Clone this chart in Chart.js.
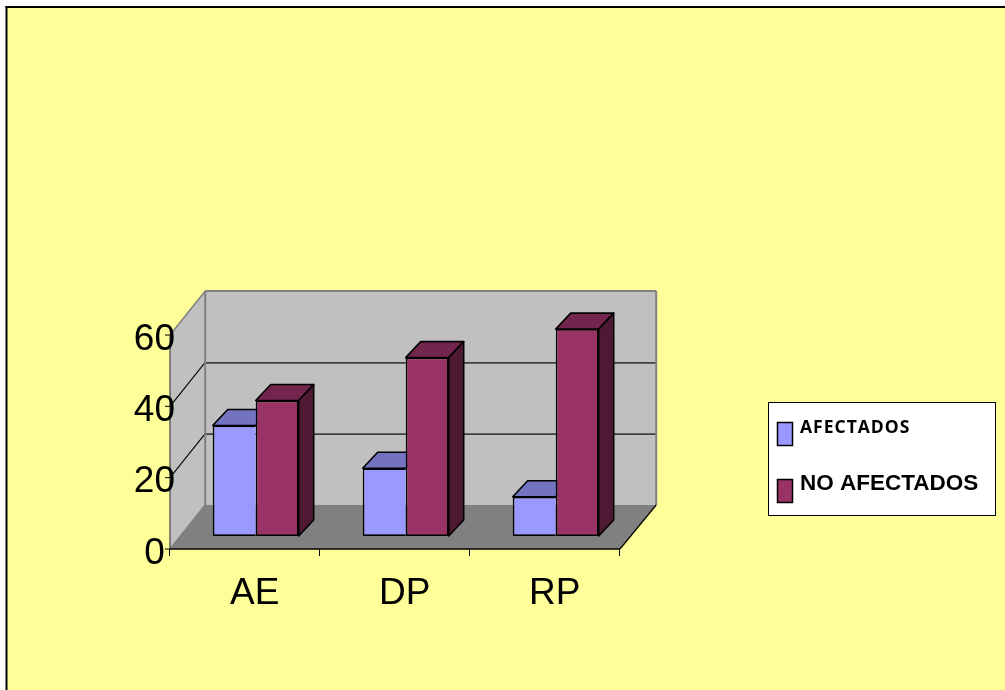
<!DOCTYPE html>
<html>
<head>
<meta charset="utf-8">
<title>AFECTADOS / NO AFECTADOS</title>
<script src="https://cdn.jsdelivr.net/npm/chart.js@4"></script>
<style>
  html, body { margin: 0; padding: 0; background: #fff; overflow: hidden; }
  #wrap { position: relative; width: 1005px; height: 690px; }
</style>
</head>
<body>
<div id="wrap"><canvas id="chart" width="1005" height="690"></canvas></div>
<script>
const categories = ["AE", "DP", "RP"];
const afectados = [31, 19, 11];
const noAfectados = [38, 50, 58];
const yTicks = [0, 20, 40, 60];

const blue = "#9999FF";
const blueTop = "#7373BF";
const red = "#993366";
const redTop = "#73264D";
const redSide = "#4D1933";

// offsets of the back wall and the front edge of the floor, from the plane the bars stand on
const back = { x: 24.5, y: -31 };
const front = { x: -10.7, y: 13 };
// depth of a bar
const barDepth = { x: 15, y: -16 };

function poly(ctx, pts, fill, stroke, width) {
  ctx.beginPath();
  pts.forEach((p, i) => (i ? ctx.lineTo(p[0], p[1]) : ctx.moveTo(p[0], p[1])));
  ctx.closePath();
  if (fill) {
    ctx.fillStyle = fill;
    ctx.fill();
  }
  if (stroke) {
    ctx.strokeStyle = stroke;
    ctx.lineWidth = width || 1;
    ctx.stroke();
  }
}

function line(ctx, x1, y1, x2, y2, color, width) {
  ctx.beginPath();
  ctx.moveTo(x1, y1);
  ctx.lineTo(x2, y2);
  ctx.strokeStyle = color;
  ctx.lineWidth = width;
  ctx.stroke();
}

// page frame, walls and floor go under everything else
const walls = {
  id: "walls",
  beforeDraw(chart) {
    const { ctx, chartArea: a, scales: { y } } = chart;
    const y0 = y.getPixelForValue(0);
    const yMax = y.getPixelForValue(60);
    ctx.save();

    ctx.fillStyle = "#FFFF99";
    ctx.fillRect(6, 7, chart.width, chart.height);
    line(ctx, 6.5, 6, 6.5, chart.height, "#000", 2);
    line(ctx, 5.5, 7, chart.width, 7, "#000", 2);

    const bl = a.left + back.x, br = a.right + back.x + 1;
    const fl = a.left + front.x, fr = a.right + front.x;
    const bTop = yMax + back.y, bBot = y0 + back.y;
    const fTop = yMax + front.y, fBot = y0 + front.y;

    // back wall, left wall, floor
    poly(ctx, [[bl, bTop], [br, bTop], [br, bBot], [bl, bBot]], "#C0C0C0");
    poly(ctx, [[fl, fTop], [bl, bTop], [bl, bBot], [fl, fBot]], "#C0C0C0");
    poly(ctx, [[fl, fBot], [bl, bBot], [br, bBot], [fr, fBot]], "#808080");

    // gridlines run across the back wall and down the left wall
    yTicks.slice(1, -1).forEach(v => {
      const p = y.getPixelForValue(v);
      line(ctx, bl, p + back.y + 0.5, br, p + back.y + 0.5, "#404040", 1.6);
      line(ctx, fl, p + front.y, bl, p + back.y, "#000", 1.1);
    });

    line(ctx, bl, bTop, br, bTop, "#808080", 2);
    line(ctx, br, bTop, br, bBot, "#808080", 2);
    line(ctx, bl, bTop, bl, bBot, "#808080", 2);
    line(ctx, fl, fTop, bl, bTop, "#808080", 1.5);
    line(ctx, fl, fBot, bl, bBot, "#808080", 1.5);
    line(ctx, fl, fTop, fl, fBot, "#606060", 1.5);
    line(ctx, fl, fBot, fr, fBot, "#000", 1.4);
    line(ctx, fr, fBot, br, bBot, "#000", 1.2);

    // axis tick marks along the front edges
    yTicks.forEach(v => {
      const p = y.getPixelForValue(v) + front.y;
      line(ctx, fl - 5, p, fl, p, "#000", 1);
    });
    const step = (fr - fl) / categories.length;
    for (let i = 0; i <= categories.length; i++) {
      const x = Math.round(fl + step * i) - 0.5;
      line(ctx, x, fBot, x, fBot + 7, "#000", 1);
    }
    ctx.restore();
  }
};

// top and side faces of the bars; the library paints the front faces over them
const barFaces = {
  id: "barFaces",
  beforeDatasetsDraw(chart) {
    const { ctx } = chart;
    const dx = barDepth.x, dy = barDepth.y;
    ctx.save();
    ctx.lineJoin = "round";
    [0, 1].forEach(i => {
      const top = i === 0 ? blueTop : redTop;
      chart.getDatasetMeta(i).data.forEach(bar => {
        const l = bar.x - bar.width / 2, r = bar.x + bar.width / 2;
        const t = bar.y, b = bar.base;
        poly(ctx, [[l, t], [l + dx, t + dy], [r + dx, t + dy], [r, t]], top, "#000", 1.6);
        if (i === 1) {
          poly(ctx, [[r, t], [r + dx, t + dy], [r + dx, b + dy], [r, b]], redSide, "#000", 1.6);
        }
      });
    });
    ctx.restore();
  }
};

// legend box: each entry has its own typeface
const legendBox = {
  id: "legendBox",
  afterDraw(chart) {
    const { ctx } = chart;
    ctx.save();
    ctx.fillStyle = "#fff";
    ctx.fillRect(768.5, 402.5, 227, 113);
    ctx.strokeStyle = "#000";
    ctx.lineWidth = 1;
    ctx.strokeRect(768.5, 402.5, 227, 113);

    const entries = [
      { y: 422.5, font: "bold 17.5px 'Open Sans'", spacing: "1px", textY: 428.5 },
      { y: 479.5, font: "bold 22.5px 'Liberation Sans'", spacing: "0px", textY: 484 }
    ];
    entries.forEach((e, i) => {
      const ds = chart.data.datasets[i];
      ctx.fillStyle = ds.backgroundColor;
      ctx.lineWidth = 1.5;
      ctx.fillRect(777.5, e.y, 15, 23);
      ctx.strokeRect(777.5, e.y, 15, 23);
      ctx.fillStyle = "#000";
      ctx.font = e.font;
      ctx.letterSpacing = e.spacing;
      ctx.textAlign = "left";
      ctx.textBaseline = "middle";
      ctx.fillText(ds.label, 800, e.textY);
    });
    ctx.restore();
  }
};

new Chart(document.getElementById("chart"), {
  type: "bar",
  data: {
    labels: categories,
    datasets: [
      // no right border here: the neighbouring bar's left border is the shared edge
      { label: "AFECTADOS", data: afectados, backgroundColor: blue, borderColor: "#000", borderWidth: { top: 1.7, left: 1.7, bottom: 1.7, right: 0 }, borderSkipped: false },
      { label: "NO AFECTADOS", data: noAfectados, backgroundColor: red, borderColor: "#000", borderWidth: 1.7, borderSkipped: false }
    ]
  },
  plugins: [walls, barFaces, legendBox],
  options: {
    responsive: false,
    animation: false,
    events: [],
    barPercentage: 1,
    categoryPercentage: 0.5733,
    layout: { padding: { left: 0, top: 322, right: 374.3, bottom: 0 } },
    plugins: { legend: { display: false }, tooltip: { enabled: false }, title: { display: false } },
    scales: {
      x: {
        afterFit(scale) { scale.height = 154; },
        grid: { display: false, drawTicks: false },
        border: { display: false },
        ticks: {
          color: "#000",
          font: { family: "'Liberation Sans'", size: 37 },
          padding: 36,
          labelOffset: -1,
          maxRotation: 0
        }
      },
      y: {
        min: 0,
        max: 60,
        afterFit(scale) { scale.width = 180.7; },
        afterBuildTicks(scale) { scale.ticks = yTicks.map(value => ({ value })); },
        grid: { display: false, drawTicks: false },
        border: { display: false },
        ticks: {
          color: "#000",
          font: { family: "'Liberation Sans'", size: 37 },
          padding: 5.7,
          labelOffset: 17.5,
          // the zero sits further left, clear of the floor corner
          callback: v => (v === 0 ? "0 " : String(v))
        }
      }
    }
  }
});
</script>
</body>
</html>
